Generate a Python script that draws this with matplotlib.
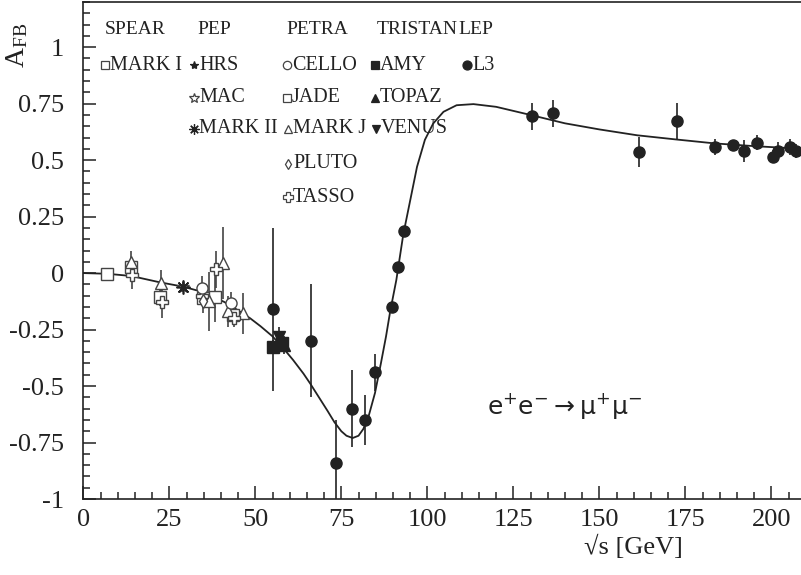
import matplotlib
matplotlib.use("Agg")
import matplotlib.pyplot as plt
from matplotlib.ticker import MultipleLocator, FixedLocator

plt.rcParams['font.family'] = ['Liberation Serif', 'DejaVu Serif']
plt.rcParams['mathtext.fontset'] = 'custom'
plt.rcParams['mathtext.rm'] = 'Liberation Serif'
plt.rcParams['mathtext.it'] = 'Liberation Serif:italic'

# ---------------- data ----------------
# theory curve
curve_E = [0, 7, 14, 22, 29, 35, 41, 45, 48.5, 51.5, 55, 58, 61, 64, 66, 68.5, 71, 73,
           75, 76.5, 78.3, 80, 81.4, 83, 84.8, 86.5, 88, 89.2, 91, 93, 95, 97, 99.3,
           101.7, 104.7, 108.5, 113.4, 120, 130, 140, 150, 161, 172, 183.6, 195, 209]
curve_A = [0, -0.003, -0.013, -0.04, -0.06, -0.085, -0.128, -0.165, -0.2, -0.235, -0.28,
           -0.33, -0.385, -0.445, -0.49, -0.55, -0.61, -0.66, -0.70, -0.72, -0.73, -0.72,
           -0.69, -0.63, -0.53, -0.40, -0.28, -0.17, -0.03, 0.17, 0.32, 0.47, 0.59,
           0.662, 0.714, 0.743, 0.748, 0.736, 0.70, 0.663, 0.636, 0.61, 0.592, 0.574,
           0.562, 0.55]

# SPEAR
markI_E, markI_A, markI_err = [7.0], [-0.005], [0.015]
# PEP
hrs_E, hrs_A, hrs_err = [29.0], [-0.063], [0.02]
mac_E, mac_A, mac_err = [29.0], [-0.063], [0.015]
markII_E, markII_A, markII_err = [29.0], [-0.06], [0.02]
# PETRA
cello_E, cello_A, cello_err = [34.4, 42.9], [-0.065, -0.134], [0.05, 0.05]
jade_E, jade_A, jade_err = [14.0, 22.4, 34.9, 38.3, 43.6], [0.028, -0.105, -0.11, -0.105, -0.186], [0.04, 0.04, 0.03, 0.11, 0.04]
markJ_E = [14.0, 22.5, 36.6, 40.6, 42.2, 46.3]
markJ_A = [0.05, -0.046, -0.125, 0.045, -0.17, -0.178]
markJ_err = [0.05, 0.06, 0.13, 0.16, 0.07, 0.09]
pluto_E, pluto_A, pluto_err = [34.7], [-0.125], [0.05]
tasso_E, tasso_A, tasso_err = [14.1, 22.8, 34.6, 38.6, 43.9], [-0.01, -0.127, -0.1, 0.016, -0.2], [0.06, 0.07, 0.03, 0.08, 0.04]
# TRISTAN
amy_E, amy_A, amy_err = [55.2, 57.8], [-0.325, -0.31], [0.03, 0.03]
topaz_E, topaz_A, topaz_err = [58.3], [-0.32], [0.04]
venus_E, venus_A, venus_err = [57.0], [-0.285], [0.045]
# LEP
l3_E = [55.2, 66.1, 73.5, 78.2, 82.0, 84.9, 89.6, 91.5, 93.1, 130.5, 136.6, 161.6,
        172.5, 183.6, 189.0, 192.0, 195.9, 200.4, 202.0, 205.4, 207.2]
l3_A = [-0.16, -0.30, -0.84, -0.60, -0.65, -0.44, -0.15, 0.025, 0.186, 0.695, 0.707,
        0.535, 0.672, 0.557, 0.565, 0.54, 0.578, 0.516, 0.54, 0.559, 0.54]
l3_err = [0.36, 0.25, 0.19, 0.17, 0.11, 0.08, 0.01, 0.01, 0.01, 0.06, 0.06, 0.067,
          0.08, 0.035, 0.025, 0.05, 0.033, 0.03, 0.04, 0.035, 0.03]

x_ticks = [0, 25, 50, 75, 100, 125, 150, 175, 200]
y_ticks = [-1, -0.75, -0.5, -0.25, 0, 0.25, 0.5, 0.75, 1]
y_ticklabels = ['-1', '-0.75', '-0.5', '-0.25', '0', '0.25', '0.5', '0.75', '1']

# ---------------- figure ----------------
W, H = 801, 575
fig = plt.figure(figsize=(W / 100, H / 100), dpi=100)
ax = fig.add_axes([83.3 / W, (H - 499) / H, 719 / W, 497 / H])

ink = '#222222'
grey = '#444444'

ax.plot(curve_E, curve_A, color=ink, lw=1.3, zorder=2)

def series(E, A, err, marker, ms, filled, color=grey, mew=1.0):
    ax.errorbar(E, A, yerr=err, fmt='none', ecolor=color, elinewidth=1.2, capsize=0, zorder=3)
    ax.plot(E, A, linestyle='none', marker=marker, ms=ms,
            mfc=(color if filled else 'white'), mec=color, mew=mew, zorder=4)

series(markI_E, markI_A, markI_err, 's', 8, False)
series(jade_E, jade_A, jade_err, 's', 8, False)
series(markJ_E, markJ_A, markJ_err, '^', 8, False)
series(tasso_E, tasso_A, tasso_err, 'P', 9, False)
series(cello_E, cello_A, cello_err, 'o', 8, False)
series(pluto_E, pluto_A, pluto_err, 'd', 7, False)
series(hrs_E, hrs_A, hrs_err, '*', 8, True)
series(mac_E, mac_A, mac_err, '*', 9, False)
series(markII_E, markII_A, markII_err, (8, 2, 0), 10, False, color=ink, mew=1.2)
series(amy_E, amy_A, amy_err, 's', 8, True, color=ink)
series(topaz_E, topaz_A, topaz_err, '^', 8, True, color=ink)
series(venus_E, venus_A, venus_err, 'v', 8, True, color=ink)
series(l3_E, l3_A, l3_err, 'o', 8, True, color=ink)

ax.set_xlim(0, 209)
ax.set_ylim(-1, 1.2)
ax.xaxis.set_major_locator(FixedLocator(x_ticks))
ax.xaxis.set_minor_locator(MultipleLocator(5))
ax.yaxis.set_major_locator(FixedLocator(y_ticks))
ax.set_yticklabels(y_ticklabels)
ax.yaxis.set_minor_locator(MultipleLocator(0.05))
ax.tick_params(which='both', direction='in', top=False, right=False,
               labelsize=19, color=ink, labelcolor=ink, width=1.1)
ax.tick_params(which='major', length=9.5)
ax.tick_params(which='minor', length=4.7)
ax.tick_params(axis='x', which='major', pad=7)
ax.tick_params(axis='y', which='major', pad=14)
for s in ['left', 'bottom', 'top']:
    ax.spines[s].set_linewidth(1.2)
    ax.spines[s].set_color(ink)
ax.spines['right'].set_visible(False)

# axis labels
fig.text(17 / W, 1 - 45 / H, r'$\mathregular{A_{FB}}$', rotation=90, fontsize=20,
         ha='center', va='center', color=ink)
fig.text(633 / W, 1 - 547 / H, '√s [GeV]', fontsize=19, ha='center', va='center', color=ink)

# process label
fig.text(565 / W, 1 - 406 / H, r'$\mathrm{e^{+}e^{-}\rightarrow\mu^{+}\mu^{-}}$', fontsize=18,
         ha='center', va='center', color=ink, family='DejaVu Sans',
         math_fontfamily='dejavusans')

# legend block (pixel positions of the reference layout)
headers = [('SPEAR', 105), ('PEP', 197), ('PETRA', 286), ('TRISTAN', 377), ('LEP', 458)]
for name, px in headers:
    fig.text(px / W, 1 - 29 / H, name, fontsize=14, ha='left', va='center', color=ink)

legend_entries = [
    # label, marker x, row y, marker, size, filled, color
    ('MARK I', 105, 65, 's', 6, False, grey),
    ('HRS', 194, 65, '*', 6, True, ink),
    ('CELLO', 287, 65, 'o', 6, False, grey),
    ('AMY', 375, 65, 's', 6, True, ink),
    ('L3', 467, 65, 'o', 6.5, True, ink),
    ('MAC', 194, 98, '*', 7, False, grey),
    ('JADE', 287, 98, 's', 6, False, grey),
    ('TOPAZ', 375, 98, '^', 6, True, ink),
    ('MARK II', 194, 129, (8, 2, 0), 7.5, False, ink),
    ('MARK J', 288, 129, '^', 6, False, grey),
    ('VENUS', 376, 129, 'v', 6, True, ink),
    ('PLUTO', 288, 164, 'd', 5, False, grey),
    ('TASSO', 288, 197, 'P', 7, False, grey),
]
for label, px, py, mk, ms, filled, col in legend_entries:
    ax.plot([px / W], [1 - py / H], transform=fig.transFigure, clip_on=False,
            linestyle='none', marker=mk, ms=ms, mfc=(col if filled else 'white'),
            mec=col, mew=0.9)
    fig.text((px + 5) / W, 1 - py / H, label, fontsize=14.5, ha='left', va='center', color=ink)

fig.savefig('out.png', dpi=100)
